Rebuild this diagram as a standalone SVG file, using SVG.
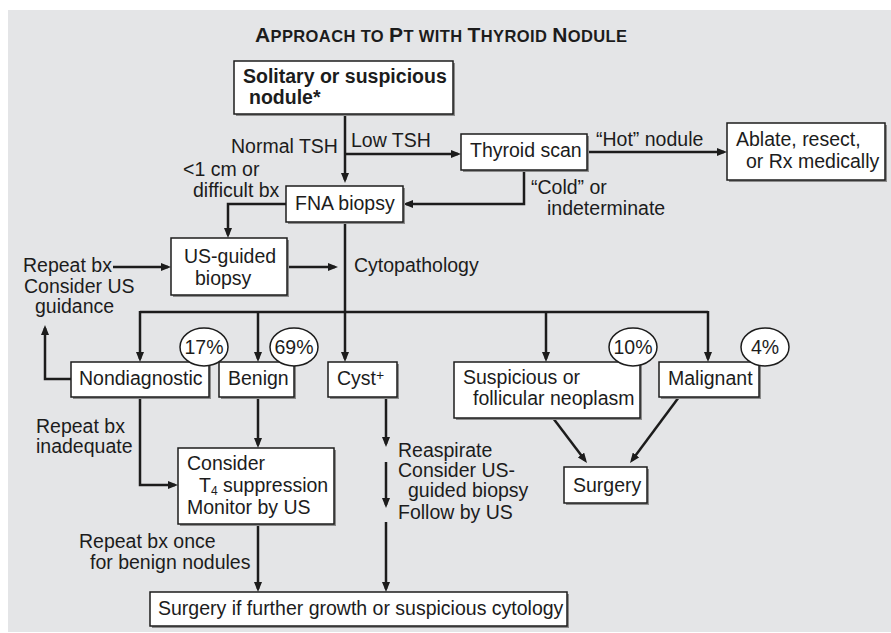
<svg xmlns="http://www.w3.org/2000/svg" width="891" height="633" viewBox="0 0 891 633">
<defs>
<style>
.t{font-family:"Liberation Sans",Arial,Helvetica,sans-serif;font-size:19.5px;fill:#1c1c1c}
.b{font-weight:bold}
.box{fill:#fff;stroke:#1c1c1c;stroke-width:1.5}
.sh{fill:#8c8c8c}
.ov{fill:#fff;stroke:#1c1c1c;stroke-width:1.5}
.c{fill:none;stroke:#1c1c1c;stroke-width:2.5}
.ca{fill:none;stroke:#1c1c1c;stroke-width:2.5;marker-end:url(#ah)}
</style>
<marker id="ah" viewBox="0 0 10 8" refX="7" refY="4" markerWidth="10" markerHeight="8" orient="auto" markerUnits="userSpaceOnUse">
<path d="M0,0 L10,4 L0,8 z" fill="#1c1c1c"/>
</marker>
</defs>
<rect x="0" y="0" width="891" height="633" fill="#fff"/>
<rect x="8" y="10" width="883" height="622" fill="#e4e5e7"/>

<text class="t b" x="255" y="42" textLength="372" lengthAdjust="spacing"><tspan font-size="21">A</tspan><tspan font-size="16.5">PPROACH TO </tspan><tspan font-size="21">P</tspan><tspan font-size="16.5">T WITH </tspan><tspan font-size="21">T</tspan><tspan font-size="16.5">HYROID </tspan><tspan font-size="21">N</tspan><tspan font-size="16.5">ODULE</tspan></text>

<g id="connectors">
<path class="ca" d="M345,114 V180"/>
<path class="ca" d="M345,154 H458"/>
<path class="ca" d="M587,152 H724"/>
<path class="ca" d="M524,170 V204 H406"/>
<path class="ca" d="M286,204 H228 V235"/>
<path class="ca" d="M113,267 H168"/>
<path class="ca" d="M289,267 H335"/>
<path class="c" d="M345,222 V312"/>
<path class="c" d="M140,312 H708"/>
<path class="ca" d="M140,311 V359"/>
<path class="ca" d="M258,312 V359"/>
<path class="ca" d="M345,312 V359"/>
<path class="ca" d="M546,312 V359"/>
<path class="ca" d="M708,311 V359"/>
<path class="ca" d="M71,379 H45 V328"/>
<path class="ca" d="M140,397 V485 H175"/>
<path class="ca" d="M258,397 V445"/>
<path class="ca" d="M386,397 V444"/>
<path class="ca" d="M386,462 V505"/>
<path class="ca" d="M386,522 V589"/>
<path class="ca" d="M258,524 V589"/>
<path class="ca" d="M553,418 L585.2,460.6"/>
<path class="ca" d="M679,397 L631.8,460.6"/>
</g>

<g id="edge-labels">
<text class="t" x="231" y="153">Normal TSH</text>
<text class="t" x="351" y="147">Low TSH</text>
<text class="t" x="596" y="146">“Hot” nodule</text>
<text class="t" x="531" y="194">“Cold” or</text>
<text class="t" x="547" y="215">indeterminate</text>
<text class="t" x="183" y="176">&lt;1 cm or</text>
<text class="t" x="193" y="197">difficult bx</text>
<text class="t" x="23" y="272">Repeat bx</text>
<text class="t" x="24" y="293">Consider US</text>
<text class="t" x="35" y="313">guidance</text>
<text class="t" x="354" y="272">Cytopathology</text>
<text class="t" x="36" y="433">Repeat bx</text>
<text class="t" x="36" y="453">inadequate</text>
<text class="t" x="398" y="457">Reaspirate</text>
<text class="t" x="398" y="477">Consider US-</text>
<text class="t" x="408" y="497">guided biopsy</text>
<text class="t" x="398" y="519">Follow by US</text>
<text class="t" x="79" y="548">Repeat bx once</text>
<text class="t" x="90" y="569">for benign nodules</text>
</g>

<g id="node-solitary">
<rect class="sh" x="236" y="63" width="219" height="53"/>
<rect class="box" x="234" y="61" width="219" height="53"/>
<text class="t b" x="243" y="83">Solitary or suspicious</text>
<text class="t b" x="249" y="104">nodule*</text>
</g>

<g id="node-thyroid-scan">
<rect class="sh" x="463" y="136" width="126" height="36"/>
<rect class="box" x="461" y="134" width="126" height="36"/>
<text class="t" x="470" y="157">Thyroid scan</text>
</g>

<g id="node-ablate">
<rect class="sh" x="729" y="125" width="158" height="57"/>
<rect class="box" x="727" y="123" width="158" height="57"/>
<text class="t" x="736" y="146">Ablate, resect,</text>
<text class="t" x="746" y="168">or Rx medically</text>
</g>

<g id="node-fna">
<rect class="sh" x="288" y="188" width="117" height="36"/>
<rect class="box" x="286" y="186" width="117" height="36"/>
<text class="t" x="295" y="210">FNA biopsy</text>
</g>

<g id="node-us-guided">
<rect class="sh" x="173" y="240" width="116" height="57"/>
<rect class="box" x="171" y="238" width="116" height="57"/>
<text class="t" x="184" y="263">US-guided</text>
<text class="t" x="195" y="285">biopsy</text>
</g>

<g id="node-nondiagnostic">
<rect class="sh" x="73" y="364" width="138" height="35"/>
<rect class="box" x="71" y="362" width="138" height="35"/>
<text class="t" x="79" y="385">Nondiagnostic</text>
</g>

<g id="node-benign">
<rect class="sh" x="221" y="364" width="75" height="35"/>
<rect class="box" x="219" y="362" width="75" height="35"/>
<text class="t" x="228" y="385">Benign</text>
</g>

<g id="node-cyst">
<rect class="sh" x="330" y="364" width="69" height="35"/>
<rect class="box" x="328" y="362" width="69" height="35"/>
<text class="t" x="337" y="385">Cyst<tspan font-size="14" dy="-5">+</tspan></text>
</g>

<g id="node-suspicious">
<rect class="sh" x="456" y="364" width="186" height="56"/>
<rect class="box" x="454" y="362" width="186" height="56"/>
<text class="t" x="463" y="384">Suspicious or</text>
<text class="t" x="473" y="405">follicular neoplasm</text>
</g>

<g id="node-malignant">
<rect class="sh" x="661" y="364" width="100" height="35"/>
<rect class="box" x="659" y="362" width="100" height="35"/>
<text class="t" x="668" y="385">Malignant</text>
</g>

<g id="pct-17"><ellipse class="ov" cx="204" cy="347" rx="24" ry="19"/><text class="t" x="204" y="354" text-anchor="middle">17%</text></g>
<g id="pct-69"><ellipse class="ov" cx="294" cy="347" rx="24" ry="19"/><text class="t" x="294" y="354" text-anchor="middle">69%</text></g>
<g id="pct-10"><ellipse class="ov" cx="633" cy="347" rx="24" ry="19"/><text class="t" x="633" y="354" text-anchor="middle">10%</text></g>
<g id="pct-4"><ellipse class="ov" cx="765" cy="347" rx="24" ry="19"/><text class="t" x="765" y="354" text-anchor="middle">4%</text></g>

<g id="node-consider">
<rect class="sh" x="180" y="450" width="156" height="76"/>
<rect class="box" x="178" y="448" width="156" height="76"/>
<text class="t" x="187" y="470">Consider</text>
<text class="t" x="199" y="492">T<tspan font-size="12" dy="3">4</tspan><tspan dy="-3"> suppression</tspan></text>
<text class="t" x="187" y="514">Monitor by US</text>
</g>

<g id="node-surgery">
<rect class="sh" x="566" y="469" width="83" height="36"/>
<rect class="box" x="564" y="467" width="83" height="36"/>
<text class="t" x="573" y="492">Surgery</text>
</g>

<g id="node-surgery-if">
<rect class="sh" x="152" y="594" width="417" height="34"/>
<rect class="box" x="150" y="592" width="417" height="34"/>
<text class="t" x="158" y="615">Surgery if further growth or suspicious cytology</text>
</g>
</svg>
